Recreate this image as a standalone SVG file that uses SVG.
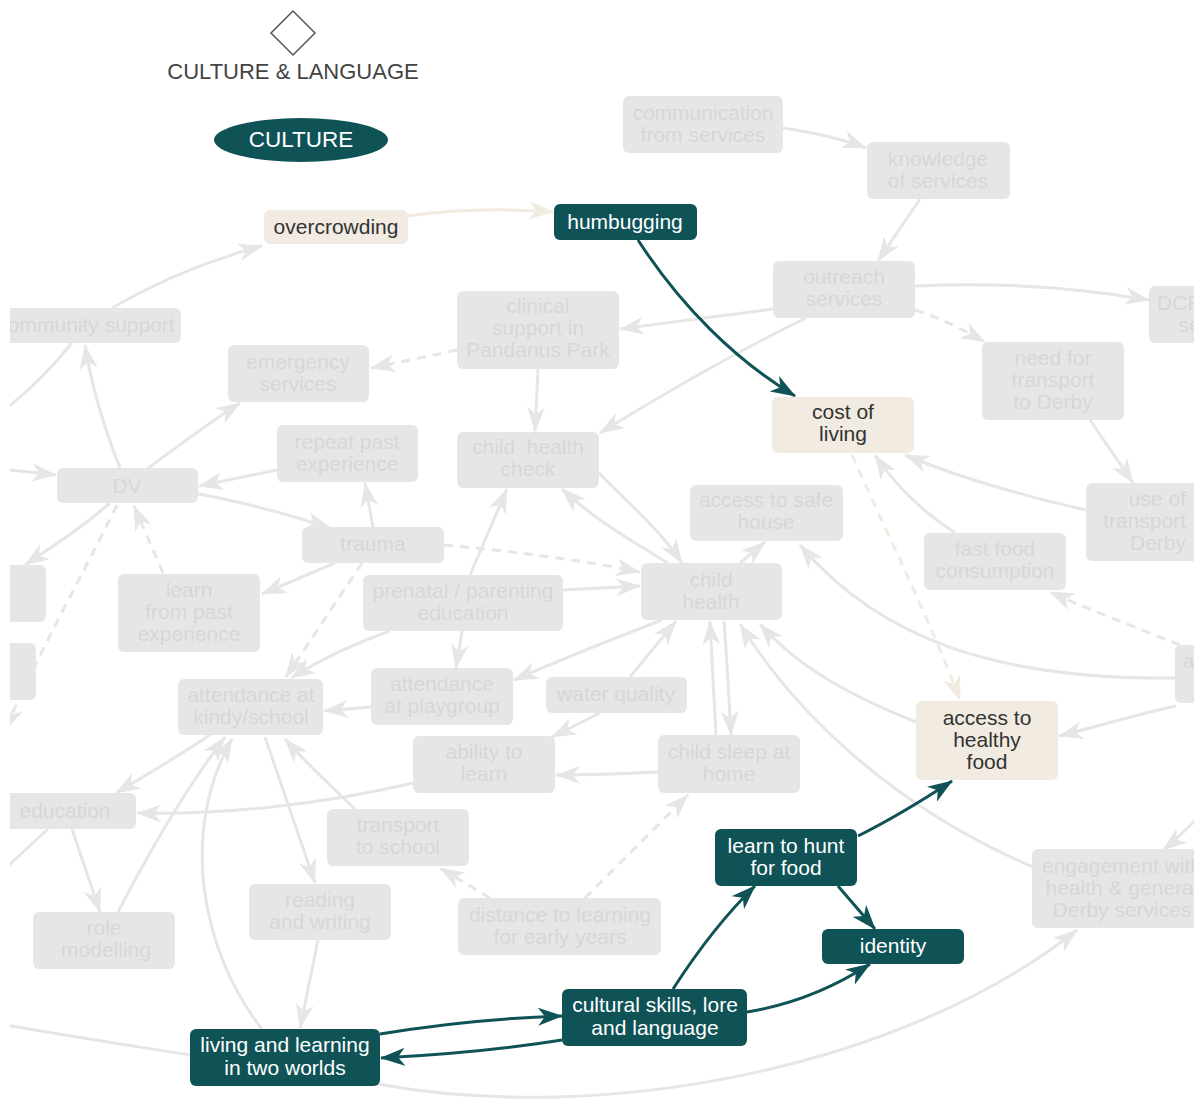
<svg xmlns="http://www.w3.org/2000/svg" width="1198" height="1104" viewBox="0 0 1198 1104">
  <style>
    text { font-family: "Liberation Sans", Arial, sans-serif; font-size: 21px; text-anchor: middle; }
    .g rect { fill: #e6e6e6; }
    .g text { fill: #d7d7d7; }
    .t rect { fill: #0f5357; }
    .t text { fill: #ffffff; }
    .b rect { fill: #f1ebe1; }
    .b text { fill: #333333; }
    .e { fill: none; stroke: #e6e6e6; stroke-width: 3; marker-end: url(#ag); }
    .e.n { marker-end: none; }
    .d { stroke-dasharray: 9 7; }
    .et { fill: none; stroke: #0f5357; stroke-width: 3; marker-end: url(#at); }
    .eb { fill: none; stroke: #f1ebe1; stroke-width: 3; marker-end: url(#ab); }
  </style>
  <defs>
    <marker id="ag" viewBox="0 0 25 18" refX="24" refY="9" markerWidth="25" markerHeight="18" markerUnits="userSpaceOnUse" orient="auto">
      <path d="M0,0 L25,9 L0,18 L7,9 z" fill="#e6e6e6"/>
    </marker>
    <marker id="at" viewBox="0 0 25 18" refX="24" refY="9" markerWidth="25" markerHeight="18" markerUnits="userSpaceOnUse" orient="auto">
      <path d="M0,0 L25,9 L0,18 L7,9 z" fill="#0f5357"/>
    </marker>
    <marker id="ab" viewBox="0 0 25 18" refX="24" refY="9" markerWidth="25" markerHeight="18" markerUnits="userSpaceOnUse" orient="auto">
      <path d="M0,0 L25,9 L0,18 L7,9 z" fill="#f1ebe1"/>
    </marker>
    <clipPath id="view">
      <rect x="10" y="0" width="1184" height="1104"/>
    </clipPath>
  </defs>

  <rect width="1198" height="1104" fill="#ffffff"/>

  <!-- legend -->
  <g id="legend">
    <polygon points="293,11 315,33 293,55 271,33" fill="#ffffff" stroke="#555555" stroke-width="1.5"/>
    <text x="293" y="79" fill="#444444" style="font-size:22px">CULTURE &amp; LANGUAGE</text>
    <ellipse cx="301" cy="140" rx="87" ry="22" fill="#0f5357"/>
    <text x="301" y="147" fill="#ffffff" style="font-size:22.5px">CULTURE</text>
  </g>

  <g clip-path="url(#view)">
    <!-- connectors -->
    <g id="connectors">
      <path class="e" d="M112,308 C160,280 210,260 262,246"/>
      <path class="e n" d="M72,343 C50,370 30,390 8,407"/>
      <path class="e" d="M120,468 C105,430 92,390 85,345"/>
      <path class="e" d="M148,468 C180,445 210,422 240,403"/>
      <path class="e d" d="M457,350 C430,356 400,362 371,368"/>
      <path class="e" d="M773,309 C720,316 670,322 620,329"/>
      <path class="e" d="M806,318 C740,350 670,390 600,433"/>
      <path class="e" d="M538,369 L535,431"/>
      <path class="e" d="M783,128 C810,132 840,138 866,148"/>
      <path class="e" d="M920,199 L878,261"/>
      <path class="e" d="M915,286 C1000,282 1080,288 1149,300"/>
      <path class="e d" d="M915,310 C940,318 960,328 985,342"/>
      <path class="e" d="M1090,420 L1133,483"/>
      <path class="e" d="M1086,510 C1020,495 960,478 905,455"/>
      <path class="e" d="M955,533 C920,510 895,485 875,455"/>
      <path class="e d" d="M1180,645 C1130,625 1090,610 1050,592"/>
      <path class="e" d="M1175,678 C1000,680 880,640 800,545"/>
      <path class="e" d="M1176,706 C1130,716 1100,726 1059,736"/>
      <path class="e" d="M740,563 L765,542"/>
      <path class="e" d="M277,470 L199,486"/>
      <path class="e" d="M198,494 C245,502 290,515 330,528"/>
      <path class="e" d="M373,527 L365,483"/>
      <path class="e" d="M0,469 L56,475"/>
      <path class="e" d="M110,503 C85,525 55,545 25,565"/>
      <path class="e d" d="M117,505 C80,580 40,650 5,730"/>
      <path class="e d" d="M163,573 L134,506"/>
      <path class="e" d="M335,563 L262,594"/>
      <path class="e d" d="M362,563 L286,677"/>
      <path class="e d" d="M444,545 C520,552 580,560 640,572"/>
      <path class="e" d="M563,590 L640,586"/>
      <path class="e" d="M470,575 L507,489"/>
      <path class="e" d="M390,631 C350,645 320,660 291,678"/>
      <path class="e" d="M462,631 L456,668"/>
      <path class="e" d="M598,472 C630,505 660,530 682,563"/>
      <path class="e" d="M668,563 C630,540 595,520 562,489"/>
      <path class="e" d="M662,620 C610,640 560,660 514,680"/>
      <path class="e" d="M630,677 L676,621"/>
      <path class="e" d="M600,713 L552,737"/>
      <path class="e" d="M716,735 C714,700 712,660 710,621"/>
      <path class="e" d="M724,621 C727,660 729,700 731,735"/>
      <path class="e" d="M658,772 C620,774 590,775 556,775"/>
      <path class="e" d="M916,722 C860,700 800,670 760,624"/>
      <path class="e" d="M1033,867 C900,810 800,720 740,624"/>
      <path class="e" d="M371,707 L324,711"/>
      <path class="e" d="M210,735 C180,755 150,773 116,793"/>
      <path class="e" d="M413,783 C320,805 220,815 137,813"/>
      <path class="e" d="M72,829 L100,912"/>
      <path class="e" d="M118,912 C150,850 185,790 225,737"/>
      <path class="e n" d="M48,829 L6,868"/>
      <path class="e" d="M265,737 L315,883"/>
      <path class="e" d="M355,809 C330,785 305,762 285,739"/>
      <path class="e" d="M318,940 L300,1028"/>
      <path class="e" d="M262,1029 C200,950 180,830 232,739"/>
      <path class="e d" d="M490,898 L440,868"/>
      <path class="e d" d="M585,898 L688,795"/>
      <path class="e n" d="M0,1024 C80,1038 140,1047 190,1055"/>
      <path class="e" d="M378,1084 C600,1125 900,1070 1077,930"/>
      <path class="e" d="M1200,815 C1188,828 1176,840 1163,850"/>

      <path class="eb" d="M408,216 C450,210 500,208 553,212"/>
      <path class="eb d" d="M852,455 C890,540 930,620 960,700"/>

      <path class="et" d="M638,240 C680,305 735,360 795,396"/>
      <path class="et" d="M673,989 C695,955 720,920 755,886"/>
      <path class="et" d="M858,836 C890,820 920,802 952,781"/>
      <path class="et" d="M838,886 L875,929"/>
      <path class="et" d="M747,1012 C790,1005 830,990 870,964"/>
      <path class="et" d="M380,1034 C440,1024 500,1018 562,1016"/>
      <path class="et" d="M562,1040 C500,1050 440,1055 381,1058"/>
    </g>

    <!-- nodes -->
    <g id="communication-from-services" class="g">
      <rect x="623" y="96" width="160" height="57" rx="6"/>
      <text x="703" y="120">communication<tspan x="703" dy="22">from services</tspan></text>
    </g>
    <g id="knowledge-of-services" class="g">
      <rect x="867" y="142" width="143" height="57" rx="6"/>
      <text x="938" y="166">knowledge<tspan x="938" dy="22">of services</tspan></text>
    </g>
    <g id="overcrowding" class="b">
      <rect x="264" y="210" width="144" height="34" rx="6"/>
      <text x="336" y="234">overcrowding</text>
    </g>
    <g id="humbugging" class="t">
      <rect x="554" y="204" width="143" height="36" rx="6"/>
      <text x="625" y="229">humbugging</text>
    </g>
    <g id="outreach-services" class="g">
      <rect x="773" y="261" width="142" height="57" rx="6"/>
      <text x="844" y="284">outreach<tspan x="844" dy="22">services</tspan></text>
    </g>
    <g id="dcp-services" class="g">
      <rect x="1149" y="286" width="140" height="57" rx="6"/>
      <text x="1217" y="310">DCP support<tspan x="1217" dy="22">services</tspan></text>
    </g>
    <g id="community-support" class="g">
      <rect x="-10" y="308" width="191" height="35" rx="6"/>
      <text x="86" y="332">community support</text>
    </g>
    <g id="clinical-support" class="g">
      <rect x="457" y="291" width="162" height="78" rx="6"/>
      <text x="538" y="313">clinical<tspan x="538" dy="22">support in</tspan><tspan x="538" dy="22">Pandanus Park</tspan></text>
    </g>
    <g id="emergency-services" class="g">
      <rect x="228" y="345" width="141" height="57" rx="6"/>
      <text x="298" y="369">emergency<tspan x="298" dy="22">services</tspan></text>
    </g>
    <g id="need-for-transport" class="g">
      <rect x="982" y="342" width="142" height="78" rx="6"/>
      <text x="1053" y="365">need for<tspan x="1053" dy="22">transport</tspan><tspan x="1053" dy="22">to Derby</tspan></text>
    </g>
    <g id="cost-of-living" class="b">
      <rect x="772" y="397" width="142" height="56" rx="6"/>
      <text x="843" y="419">cost of<tspan x="843" dy="22">living</tspan></text>
    </g>
    <g id="repeat-past-experience" class="g">
      <rect x="277" y="425" width="141" height="57" rx="6"/>
      <text x="347" y="449">repeat past<tspan x="347" dy="22">experience</tspan></text>
    </g>
    <g id="child-health-check" class="g">
      <rect x="457" y="432" width="142" height="56" rx="6"/>
      <text x="528" y="454" xml:space="preserve">child  health<tspan x="528" dy="22">check</tspan></text>
    </g>
    <g id="dv" class="g">
      <rect x="57" y="468" width="141" height="35" rx="6"/>
      <text x="127" y="493">DV</text>
    </g>
    <g id="access-to-safe-house" class="g">
      <rect x="690" y="485" width="153" height="56" rx="6"/>
      <text x="766" y="507">access to safe<tspan x="766" dy="22">house</tspan></text>
    </g>
    <g id="use-of-transport" class="g">
      <rect x="1086" y="483" width="140" height="78" rx="6"/>
      <text x="1186" y="506" style="text-anchor:end">use of<tspan x="1186" dy="22">transport</tspan><tspan x="1186" dy="22">Derby</tspan></text>
    </g>
    <g id="trauma" class="g">
      <rect x="302" y="527" width="142" height="36" rx="6"/>
      <text x="373" y="551">trauma</text>
    </g>
    <g id="fast-food" class="g">
      <rect x="924" y="533" width="142" height="57" rx="6"/>
      <text x="995" y="556">fast food<tspan x="995" dy="22">consumption</tspan></text>
    </g>
    <g id="conflict" class="g">
      <rect x="-96" y="565" width="142" height="57" rx="6"/>
      <text x="-25" y="601">conflict</text>
    </g>
    <g id="left-node" class="g">
      <rect x="-106" y="643" width="142" height="57" rx="6"/>
    </g>
    <g id="learn-from-past" class="g">
      <rect x="118" y="574" width="142" height="78" rx="6"/>
      <text x="189" y="597">learn<tspan x="189" dy="22">from past</tspan><tspan x="189" dy="22">experience</tspan></text>
    </g>
    <g id="prenatal-education" class="g">
      <rect x="363" y="575" width="200" height="56" rx="6"/>
      <text x="463" y="598">prenatal / parenting<tspan x="463" dy="22">education</tspan></text>
    </g>
    <g id="child-health" class="g">
      <rect x="641" y="563" width="141" height="57" rx="6"/>
      <text x="711" y="587">child<tspan x="711" dy="22">health</tspan></text>
    </g>
    <g id="access-to-shops" class="g">
      <rect x="1175" y="645" width="142" height="58" rx="6"/>
      <text x="1227" y="668">access to<tspan x="1227" dy="22">shops</tspan></text>
    </g>
    <g id="attendance-kindy" class="g">
      <rect x="178" y="679" width="145" height="56" rx="6"/>
      <text x="251" y="702">attendance at<tspan x="251" dy="22">kindy/school</tspan></text>
    </g>
    <g id="attendance-playgroup" class="g">
      <rect x="371" y="668" width="142" height="57" rx="6"/>
      <text x="442" y="691">attendance<tspan x="442" dy="22">at playgroup</tspan></text>
    </g>
    <g id="water-quality" class="g">
      <rect x="546" y="677" width="141" height="36" rx="6"/>
      <text x="616" y="701">water quality</text>
    </g>
    <g id="access-to-healthy-food" class="b">
      <rect x="916" y="701" width="142" height="79" rx="6"/>
      <text x="987" y="725">access to<tspan x="987" dy="22">healthy</tspan><tspan x="987" dy="22">food</tspan></text>
    </g>
    <g id="ability-to-learn" class="g">
      <rect x="413" y="736" width="142" height="57" rx="6"/>
      <text x="484" y="759">ability to<tspan x="484" dy="22">learn</tspan></text>
    </g>
    <g id="child-sleep" class="g">
      <rect x="658" y="735" width="142" height="58" rx="6"/>
      <text x="729" y="759">child sleep at<tspan x="729" dy="22">home</tspan></text>
    </g>
    <g id="education" class="g">
      <rect x="-6" y="793" width="142" height="36" rx="6"/>
      <text x="65" y="818">education</text>
    </g>
    <g id="transport-to-school" class="g">
      <rect x="327" y="809" width="142" height="57" rx="6"/>
      <text x="398" y="832">transport<tspan x="398" dy="22">to school</tspan></text>
    </g>
    <g id="learn-to-hunt" class="t">
      <rect x="715" y="829" width="142" height="57" rx="6"/>
      <text x="786" y="853">learn to hunt<tspan x="786" dy="22">for food</tspan></text>
    </g>
    <g id="engagement" class="g">
      <rect x="1032" y="849" width="180" height="79" rx="6"/>
      <text x="1122" y="873">engagement with<tspan x="1122" dy="22">health &amp; general</tspan><tspan x="1122" dy="22">Derby services</tspan></text>
    </g>
    <g id="identity" class="t">
      <rect x="822" y="929" width="142" height="35" rx="6"/>
      <text x="893" y="953">identity</text>
    </g>
    <g id="reading-and-writing" class="g">
      <rect x="249" y="884" width="142" height="56" rx="6"/>
      <text x="320" y="907">reading<tspan x="320" dy="22">and writing</tspan></text>
    </g>
    <g id="distance-to-learning" class="g">
      <rect x="458" y="898" width="203" height="57" rx="6"/>
      <text x="560" y="922">distance to learning<tspan x="560" dy="22">for early years</tspan></text>
    </g>
    <g id="role-modelling" class="g">
      <rect x="33" y="912" width="142" height="57" rx="6"/>
      <text x="104" y="935">role<tspan x="106" dy="22">modelling</tspan></text>
    </g>
    <g id="cultural-skills" class="t">
      <rect x="562" y="989" width="185" height="57" rx="6"/>
      <text x="655" y="1012">cultural skills, lore<tspan x="655" dy="23">and language</tspan></text>
    </g>
    <g id="living-and-learning" class="t">
      <rect x="190" y="1029" width="190" height="57" rx="6"/>
      <text x="285" y="1052">living and learning<tspan x="285" dy="23">in two worlds</tspan></text>
    </g>
  </g>
</svg>
